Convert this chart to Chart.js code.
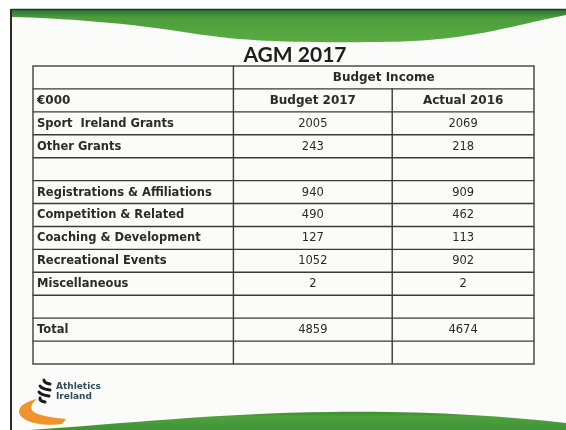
<!DOCTYPE html>
<html>
<head>
<meta charset="utf-8">
<script src="https://cdn.jsdelivr.net/npm/chart.js@4/dist/chart.umd.min.js"></script>
<style>
  html, body { margin: 0; padding: 0; background: #fff; overflow: hidden; }
  #wrap { width: 566px; height: 430px; }
</style>
</head>
<body>
<div id="wrap"><canvas id="agm" width="566" height="430"></canvas></div>
<script>
'use strict';

// ─── Data ─────────────────────────────────────────────────────────────────────

const slideTitle = 'AGM 2017';
const groupTitle = 'Budget Income';
const unitLabel  = '€000';
const seriesNames = ['Budget 2017', 'Actual 2016'];

const categories = [
  'Sport  Ireland Grants',
  'Other Grants',
  '',
  'Registrations & Affiliations',
  'Competition & Related',
  'Coaching & Development',
  'Recreational Events',
  'Miscellaneous',
  '',
  'Total',
  '',
];
const budget2017 = [2005, 243, null, 940, 490, 127, 1052, 2, null, 4859, null];
const actual2016 = [2069, 218, null, 909, 462, 113, 902, 2, null, 4674, null];

// ─── Layout ───────────────────────────────────────────────────────────────────

const HEAD_ROWS = 2;                                  // group title + column heads
const ROW_COUNT = HEAD_ROWS + categories.length;
const colEdges  = [0, 0.4, 0.717, 1];                 // fractions of table width
const colMid    = (i) => (colEdges[i] + colEdges[i + 1]) / 2;
const rowMid    = (r) => r + 0.5;

const TEXT_COL  = '#2a2a2a';
const HEAD_FONT = 'bold 12px "DejaVu Sans", sans-serif';
const LBL_FONT  = 'bold 11.5px "DejaVu Sans", sans-serif';
const NUM_FONT  = '11.5px "DejaVu Sans", sans-serif';

function textDataset(label, x, head, items, align, bodyFont) {
  const pts = [{ x, y: rowMid(1) }];
  const texts = [head];
  items.forEach((v, i) => {
    pts.push({ x, y: rowMid(HEAD_ROWS + i) });
    texts.push(v == null ? '' : String(v));
  });
  return {
    label, data: pts, texts, align,
    headFont: HEAD_FONT, bodyFont,
    pointRadius: 0, pointHoverRadius: 0,
  };
}

// ─── Plugins ──────────────────────────────────────────────────────────────────

// slide background: frame, green waves, title, logo
const slideDecor = {
  id: 'slideDecor',
  beforeDraw(chart) {
    const { ctx, width: W, height: H } = chart;
    ctx.save();
    ctx.fillStyle = '#ffffff';
    ctx.fillRect(0, 0, W, H);
    ctx.fillStyle = '#fbfbfa';
    ctx.fillRect(11, 9, W - 11, H - 9);

    // top wave
    const g1 = ctx.createLinearGradient(0, 9, 0, 43);
    g1.addColorStop(0, '#2f6b35');
    g1.addColorStop(0.25, '#4c9d3c');
    g1.addColorStop(1, '#5aac42');
    ctx.fillStyle = g1;
    ctx.beginPath();
    ctx.moveTo(11, 9);
    ctx.lineTo(W, 9);
    ctx.lineTo(W, 15);
    ctx.bezierCurveTo(505, 27, 470, 41, 380, 42);
    ctx.bezierCurveTo(290, 43, 240, 41, 190, 33);
    ctx.bezierCurveTo(130, 23, 60, 18, 11, 17);
    ctx.closePath();
    ctx.fill();
    ctx.strokeStyle = '#1d3f22';
    ctx.lineWidth = 1.5;
    ctx.beginPath();
    ctx.moveTo(11, 9.5);
    ctx.lineTo(W, 9.5);
    ctx.stroke();

    // bottom wave
    const g2 = ctx.createLinearGradient(0, 412, 0, H);
    g2.addColorStop(0, '#3f8f36');
    g2.addColorStop(0.3, '#4fa03d');
    g2.addColorStop(1, '#3f9236');
    ctx.fillStyle = g2;
    ctx.beginPath();
    ctx.moveTo(30, H);
    ctx.bezierCurveTo(120, 424, 220, 413, 330, 412);
    ctx.bezierCurveTo(430, 411, 500, 416, W, 423);
    ctx.lineTo(W, H);
    ctx.closePath();
    ctx.fill();

    // left frame edge
    ctx.strokeStyle = '#2b2b2b';
    ctx.lineWidth = 2;
    ctx.beginPath();
    ctx.moveTo(11, 9);
    ctx.lineTo(11, H);
    ctx.stroke();

    // title
    ctx.fillStyle = '#1e1e1e';
    ctx.font = 'bold 21px Lato, "Open Sans", sans-serif';
    ctx.textAlign = 'center';
    ctx.textBaseline = 'middle';
    ctx.fillText(slideTitle, 295, 55);

    // logo: orange swoosh
    ctx.fillStyle = '#f0932a';
    ctx.beginPath();
    ctx.moveTo(62, 424);
    ctx.bezierCurveTo(40, 427, 20, 421, 19, 412);
    ctx.bezierCurveTo(19, 405, 28, 401, 37, 399);
    ctx.bezierCurveTo(29, 405, 29, 411, 38, 414);
    ctx.bezierCurveTo(47, 417, 56, 418, 66, 419);
    ctx.closePath();
    ctx.fill();
    // logo: emblem stripes
    ctx.strokeStyle = '#1a1a1a';
    ctx.lineWidth = 3;
    ctx.lineCap = 'round';
    [[44, 380, 50, 384], [40, 386, 50, 390], [39, 392, 49, 396], [40, 398, 45, 402]]
      .forEach(([x1, y1, x2, y2]) => {
        ctx.beginPath();
        ctx.moveTo(x1, y1);
        ctx.quadraticCurveTo((x1 + x2) / 2 - 3, (y1 + y2) / 2 + 1, x2, y2);
        ctx.stroke();
      });
    // logo: words
    ctx.fillStyle = '#2c4f5c';
    ctx.font = 'bold 9px "DejaVu Sans", sans-serif';
    ctx.textAlign = 'left';
    ctx.fillText('Athletics', 56, 387);
    ctx.fillText('Ireland', 56, 397);
    ctx.restore();
  },
};

// table rules drawn on the chart scales
const tableGrid = {
  id: 'tableGrid',
  beforeDatasetsDraw(chart) {
    const { ctx, scales: { x, y } } = chart;
    const px = (v) => x.getPixelForValue(v);
    const py = (v) => y.getPixelForValue(v);
    ctx.save();
    ctx.lineCap = 'square';

    // inner horizontal rules
    ctx.strokeStyle = '#3a3a3a';
    ctx.lineWidth = 1.4;
    for (let r = 1; r < ROW_COUNT; r++) {
      ctx.beginPath();
      ctx.moveTo(px(0), py(r));
      ctx.lineTo(px(1), py(r));
      ctx.stroke();
    }
    // column dividers (second one starts under the group title)
    ctx.beginPath();
    ctx.moveTo(px(colEdges[1]), py(0));
    ctx.lineTo(px(colEdges[1]), py(ROW_COUNT));
    ctx.moveTo(px(colEdges[2]), py(1));
    ctx.lineTo(px(colEdges[2]), py(ROW_COUNT));
    ctx.stroke();

    // outer border
    ctx.strokeStyle = '#555';
    ctx.lineWidth = 1.6;
    ctx.strokeRect(px(0), py(0), px(1) - px(0), py(ROW_COUNT) - py(0));
    ctx.restore();
  },
};

// cell texts placed at the dataset elements
const cellText = {
  id: 'cellText',
  afterDatasetsDraw(chart) {
    const { ctx } = chart;
    ctx.save();
    ctx.fillStyle = TEXT_COL;
    ctx.textBaseline = 'middle';
    chart.data.datasets.forEach((ds, di) => {
      const meta = chart.getDatasetMeta(di);
      ctx.textAlign = ds.align;
      meta.data.forEach((el, i) => {
        const t = ds.texts[i];
        if (!t) return;
        ctx.font = i === 0 ? ds.headFont : ds.bodyFont;
        const dx = ds.align === 'left' ? 4 : 0;
        ctx.fillText(t, el.x + dx, el.y + 0.5);
      });
    });
    ctx.restore();
  },
};

// ─── Chart ────────────────────────────────────────────────────────────────────

const datasets = [
  textDataset('Item', colEdges[0], unitLabel, categories, 'left', LBL_FONT),
  textDataset(seriesNames[0], colMid(1), seriesNames[0], budget2017, 'center', NUM_FONT),
  textDataset(seriesNames[1], colMid(2), seriesNames[1], actual2016, 'center', NUM_FONT),
  {
    label: groupTitle,
    data: [{ x: (colEdges[1] + colEdges[3]) / 2, y: rowMid(0) }],
    texts: [groupTitle],
    align: 'center',
    headFont: HEAD_FONT,
    bodyFont: HEAD_FONT,
    pointRadius: 0,
    pointHoverRadius: 0,
  },
];

new Chart(document.getElementById('agm'), {
  type: 'scatter',
  data: { datasets },
  options: {
    responsive: false,
    animation: false,
    events: [],
    layout: { padding: { left: 33, top: 66, right: 32, bottom: 66 } },
    plugins: { legend: { display: false }, tooltip: { enabled: false } },
    scales: {
      x: { type: 'linear', min: 0, max: 1, display: false },
      y: { type: 'linear', min: 0, max: ROW_COUNT, reverse: true, display: false },
    },
  },
  plugins: [slideDecor, tableGrid, cellText],
});
</script>
</body>
</html>
